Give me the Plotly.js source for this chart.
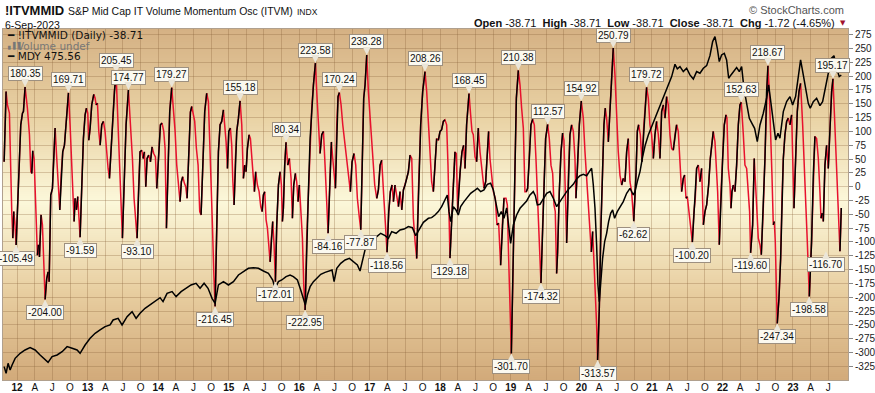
<!DOCTYPE html>
<html><head><meta charset="utf-8">
<script src="https://cdn.plot.ly/plotly-3.0.1.min.js"></script>
<style>html,body{margin:0;padding:0;background:#fff;}#chart{width:875px;height:393px;}</style>
</head><body><div id="chart"></div>
<script>
// Oscillator (!ITVMMID) – decimal year / value
const oscX = [2011.816,2011.844,2011.863,2011.891,2011.924,2011.939,2011.953,2011.967,2011.986,2012.019,2012.052,2012.076,2012.090,2012.113,2012.146,2012.175,2012.194,2012.208,2012.222,2012.241,2012.265,2012.288,2012.302,2012.317,2012.340,2012.359,2012.383,2012.397,2012.420,2012.439,2012.454,2012.477,2012.501,2012.520,2012.539,2012.562,2012.586,2012.605,2012.624,2012.647,2012.671,2012.695,2012.728,2012.751,2012.775,2012.789,2012.808,2012.822,2012.841,2012.860,2012.874,2012.893,2012.917,2012.940,2012.964,2012.983,2013.002,2013.016,2013.035,2013.058,2013.087,2013.106,2013.120,2013.139,2013.158,2013.177,2013.200,2013.224,2013.247,2013.271,2013.290,2013.309,2013.332,2013.356,2013.380,2013.403,2013.432,2013.460,2013.493,2013.517,2013.545,2013.578,2013.611,2013.635,2013.658,2013.682,2013.701,2013.720,2013.743,2013.767,2013.786,2013.805,2013.824,2013.843,2013.866,2013.890,2013.914,2013.937,2013.961,2013.980,2014.008,2014.032,2014.055,2014.079,2014.098,2014.117,2014.140,2014.164,2014.192,2014.216,2014.240,2014.263,2014.287,2014.310,2014.329,2014.348,2014.372,2014.391,2014.410,2014.433,2014.457,2014.476,2014.495,2014.518,2014.542,2014.566,2014.589,2014.608,2014.637,2014.660,2014.688,2014.712,2014.731,2014.750,2014.769,2014.788,2014.807,2014.831,2014.854,2014.878,2014.901,2014.925,2014.944,2014.963,2014.982,2015.001,2015.024,2015.043,2015.057,2015.076,2015.095,2015.114,2015.138,2015.161,2015.185,2015.208,2015.227,2015.246,2015.265,2015.289,2015.308,2015.327,2015.345,2015.364,2015.383,2015.407,2015.431,2015.454,2015.473,2015.492,2015.511,2015.530,2015.549,2015.568,2015.587,2015.605,2015.624,2015.643,2015.662,2015.681,2015.705,2015.728,2015.747,2015.761,2015.775,2015.794,2015.813,2015.837,2015.861,2015.884,2015.903,2015.922,2015.946,2015.964,2015.983,2016.002,2016.021,2016.045,2016.064,2016.083,2016.106,2016.130,2016.154,2016.177,2016.201,2016.229,2016.248,2016.272,2016.295,2016.319,2016.343,2016.366,2016.390,2016.409,2016.437,2016.456,2016.475,2016.494,2016.513,2016.532,2016.550,2016.569,2016.593,2016.617,2016.645,2016.673,2016.702,2016.725,2016.749,2016.777,2016.801,2016.824,2016.848,2016.872,2016.895,2016.914,2016.933,2016.957,2016.980,2017.004,2017.037,2017.070,2017.099,2017.122,2017.146,2017.169,2017.193,2017.217,2017.231,2017.245,2017.269,2017.292,2017.316,2017.335,2017.358,2017.382,2017.406,2017.429,2017.453,2017.477,2017.500,2017.524,2017.547,2017.571,2017.595,2017.618,2017.642,2017.665,2017.689,2017.722,2017.750,2017.783,2017.807,2017.830,2017.854,2017.877,2017.901,2017.925,2017.948,2017.972,2017.996,2018.019,2018.043,2018.066,2018.090,2018.109,2018.128,2018.137,2018.161,2018.185,2018.208,2018.227,2018.246,2018.265,2018.284,2018.307,2018.331,2018.350,2018.373,2018.407,2018.430,2018.449,2018.468,2018.492,2018.515,2018.539,2018.563,2018.581,2018.600,2018.619,2018.643,2018.662,2018.685,2018.704,2018.728,2018.752,2018.780,2018.803,2018.827,2018.841,2018.855,2018.879,2018.903,2018.931,2018.950,2018.969,2018.988,2019.007,2019.030,2019.054,2019.078,2019.106,2019.130,2019.153,2019.177,2019.200,2019.219,2019.238,2019.262,2019.285,2019.309,2019.333,2019.356,2019.380,2019.404,2019.427,2019.451,2019.470,2019.493,2019.522,2019.545,2019.569,2019.593,2019.612,2019.630,2019.649,2019.663,2019.687,2019.711,2019.734,2019.753,2019.772,2019.791,2019.815,2019.838,2019.862,2019.886,2019.909,2019.923,2019.947,2019.971,2019.999,2020.027,2020.051,2020.075,2020.098,2020.122,2020.141,2020.160,2020.179,2020.197,2020.216,2020.230,2020.254,2020.278,2020.301,2020.320,2020.339,2020.358,2020.382,2020.405,2020.429,2020.452,2020.476,2020.500,2020.523,2020.547,2020.571,2020.594,2020.618,2020.642,2020.665,2020.689,2020.712,2020.742,2020.774,2020.793,2020.812,2020.836,2020.859,2020.883,2020.906,2020.925,2020.949,2020.972,2020.996,2021.020,2021.043,2021.067,2021.091,2021.114,2021.138,2021.162,2021.185,2021.209,2021.232,2021.256,2021.280,2021.303,2021.327,2021.350,2021.374,2021.398,2021.421,2021.445,2021.464,2021.483,2021.502,2021.525,2021.549,2021.573,2021.596,2021.615,2021.634,2021.658,2021.681,2021.705,2021.729,2021.752,2021.776,2021.804,2021.828,2021.852,2021.870,2021.894,2021.913,2021.932,2021.946,2021.955,2021.979,2022.003,2022.026,2022.050,2022.064,2022.083,2022.107,2022.121,2022.135,2022.154,2022.177,2022.201,2022.225,2022.248,2022.267,2022.296,2022.319,2022.343,2022.366,2022.385,2022.399,2022.428,2022.451,2022.475,2022.508,2022.532,2022.551,2022.579,2022.603,2022.626,2022.645,2022.664,2022.683,2022.702,2022.721,2022.735,2022.749,2022.768,2022.777,2022.801,2022.825,2022.844,2022.863,2022.886,2022.910,2022.933,2022.957,2022.981,2022.999,2023.014,2023.037,2023.061,2023.085,2023.108,2023.137,2023.160,2023.184,2023.203,2023.217,2023.231,2023.264,2023.288,2023.311,2023.335,2023.359,2023.382,2023.397,2023.415,2023.430,2023.453,2023.477,2023.500,2023.524,2023.548,2023.567,2023.595,2023.619,2023.642,2023.666,2023.685];
const oscY = [45,172,148,133,-45,-93,-45,-63,-105.49,-9,112,133,136,180.35,142,94,27,24,65,51,-45,-124,-105,-127,-51,-69,-154,-204,-166,-154,-172,-15,-3,69,106,51,3,-42,21,63,75,112,169.71,112,39,-27,-63,-21,-42,-18,-45,-91.59,3,87,130,142,133,84,106,148,167,160,148,151,100,75,112,118,100,57,33,15,69,112,172,205.45,100,-9,-93,3,112,174.77,112,51,-21,-69,-93.1,-9,63,66,51,63,0,51,57,45,72,60,54,-3,51,112,115,100,69,-75,39,136,179.27,142,100,39,3,-27,9,18,6,0,-21,63,135,145,135,118,69,39,-45,-51,51,136,169,154,81,21,-69,-154,-216.45,-69,63,112,118,139,112,81,33,100,106,75,15,-33,51,100,124,155.18,112,15,39,27,69,94,87,57,21,-9,27,3,-9,-36,-45,-15,-9,-60,-75,-99,-136,-93,-63,-105,-172.01,-69,3,27,3,-63,-39,39,80.34,39,51,15,-57,3,24,9,-27,3,-45,-93,-178,-222.95,-93,-9,87,142,184,223.58,172,112,60,94,100,39,-45,-84.16,21,81,51,15,-3,112,163,170.24,148,112,81,51,27,-9,45,60,39,-21,-51,-77.87,51,160,184,238.28,172,124,51,3,-21,-6,39,48,-6,-69,-93,-118.56,-45,-9,3,-27,3,-18,-36,-9,-42,-6,3,15,27,57,51,-57,-99,-130,-9,112,172,208.26,172,112,51,9,-9,51,87,84,100,103,118,121,112,39,-69,-129.18,-57,21,63,60,-45,3,33,63,75,33,112,168.45,130,100,94,54,45,106,63,39,15,-3,9,51,100,51,21,-9,-21,-69,-66,-118,-142,-69,-21,-21,-33,-130,-238,-301.7,-160,21,160,210.38,184,142,106,-9,-9,-3,51,112,122,112,51,-33,-118,-174.32,-69,21,87,112.57,87,39,24,-33,-45,-157,-118,-9,63,97,84,-9,-102,21,94,112,100,51,-21,39,112,154.92,124,63,9,-21,-99,-118,-81,-130,-190,-250,-313.57,-220,-69,51,112,142,124,81,142,214,250.79,202,112,63,21,3,15,9,63,87,9,-9,-62.62,21,100,112,94,45,106,142,179.72,160,112,94,51,94,118,94,51,136,148,124,163,148,94,69,66,94,112,100,33,-9,15,21,-21,-18,-45,-75,-100.2,-45,-21,33,39,9,33,-69,-45,-33,3,51,81,100,81,39,-9,-69,-105,-9,51,112,130,124,33,3,-39,-9,3,-9,39,112,148,152.63,94,39,33,-21,-45,-119.6,-69,51,-9,-93,-105,-123,-39,51,172,218.67,172,112,21,-69,-63,-99,-190,-247.34,-202,-130,-21,51,94,118,124,112,130,21,-39,51,136,172,187,112,21,-39,-99,-178,-198.58,-99,21,91,87,51,-9,-57,-48,-63,39,75,33,106,172,195.17,112,21,-39,-116.7,-38.71];

// MDY price overlay – decimal year / price
const mdyX = [2011.816,2011.844,2011.872,2011.901,2011.929,2011.972,2012.043,2012.113,2012.184,2012.255,2012.326,2012.397,2012.439,2012.496,2012.567,2012.638,2012.709,2012.780,2012.850,2012.893,2012.964,2013.035,2013.106,2013.176,2013.247,2013.318,2013.361,2013.432,2013.488,2013.559,2013.630,2013.687,2013.743,2013.814,2013.885,2013.956,2014.027,2014.069,2014.126,2014.197,2014.254,2014.325,2014.395,2014.466,2014.537,2014.594,2014.651,2014.707,2014.764,2014.807,2014.854,2014.925,2014.996,2015.067,2015.138,2015.208,2015.279,2015.350,2015.421,2015.492,2015.563,2015.624,2015.657,2015.705,2015.752,2015.813,2015.870,2015.917,2015.974,2016.021,2016.059,2016.087,2016.116,2016.154,2016.201,2016.248,2016.305,2016.366,2016.428,2016.465,2016.494,2016.532,2016.588,2016.650,2016.711,2016.768,2016.824,2016.862,2016.900,2016.938,2016.985,2017.042,2017.099,2017.155,2017.217,2017.264,2017.311,2017.373,2017.429,2017.486,2017.547,2017.604,2017.651,2017.703,2017.760,2017.831,2017.877,2017.925,2017.972,2018.019,2018.066,2018.099,2018.123,2018.147,2018.185,2018.222,2018.255,2018.288,2018.336,2018.383,2018.430,2018.477,2018.525,2018.572,2018.619,2018.666,2018.713,2018.752,2018.789,2018.827,2018.865,2018.903,2018.941,2018.969,2018.997,2019.035,2019.082,2019.130,2019.177,2019.224,2019.271,2019.318,2019.347,2019.375,2019.413,2019.460,2019.508,2019.555,2019.602,2019.649,2019.696,2019.744,2019.791,2019.838,2019.885,2019.933,2019.980,2020.027,2020.075,2020.112,2020.145,2020.169,2020.193,2020.216,2020.235,2020.254,2020.278,2020.301,2020.330,2020.358,2020.386,2020.415,2020.443,2020.471,2020.509,2020.547,2020.594,2020.642,2020.689,2020.736,2020.760,2020.793,2020.831,2020.869,2020.906,2020.949,2020.996,2021.043,2021.091,2021.138,2021.185,2021.232,2021.280,2021.327,2021.360,2021.398,2021.445,2021.492,2021.539,2021.587,2021.634,2021.681,2021.729,2021.776,2021.823,2021.861,2021.894,2021.927,2021.955,2021.988,2022.026,2022.059,2022.088,2022.121,2022.163,2022.201,2022.239,2022.272,2022.305,2022.343,2022.381,2022.418,2022.456,2022.494,2022.532,2022.579,2022.626,2022.655,2022.683,2022.721,2022.754,2022.787,2022.815,2022.863,2022.910,2022.957,2022.995,2023.037,2023.075,2023.108,2023.146,2023.184,2023.217,2023.245,2023.288,2023.335,2023.382,2023.420,2023.458,2023.500,2023.543,2023.581,2023.619,2023.656,2023.685];
const mdyY = [160.6,153.4,164.2,157,162.4,169.6,175,178.6,181.1,178.6,173.2,167.8,165.2,171.4,173.2,176.8,182.2,180.4,178.6,175,184,191.2,196.6,200.2,203.8,205.6,211,212.8,205.6,214.6,220,212.8,218.2,223.6,227.2,230.8,235.1,230.8,239.8,241.6,236.2,241.6,245.2,248.8,250.6,245.2,250.6,245.2,234.4,229,248.8,252.4,248.8,252.4,259.6,263.2,266.8,267.5,266.8,263.9,261.4,254.2,245.2,252.4,254.2,257.8,259.6,257.8,254.2,243.4,232.6,227.2,238,247,252.4,256,260.3,262.4,263.9,265,252.4,266.8,272.2,275.8,277.6,274,270.4,263.9,277.6,288.4,292.7,295.6,301,304.6,302.1,299.2,306.4,304.6,308.2,309.2,311.8,310.7,302.1,309.2,316.4,320.8,321.5,324.4,328,333.4,340.6,346,328,317.2,333.4,329.8,324.4,333.4,338.8,343.1,347.8,350.3,353.2,349.6,351.4,357.5,358.6,351.4,335.2,322.6,328,320.8,332,313.6,293.8,313.6,324.4,331.6,335.9,339.5,346,349.6,345.2,335.2,335.9,342.4,347.8,349.6,342.4,333.4,338.8,345.2,349.6,353.9,357.5,363.2,366.8,368.3,366.8,371.2,374.8,356.8,331.6,292,248.8,230.8,256,277.6,295.6,304.6,317.2,326.2,329.8,320.8,328,332.3,338.8,347.8,353.2,346,349.6,360.4,371.2,387.4,400,410.8,419.8,427,437.8,446.1,454,463,473.8,487.1,482.1,484.6,479.2,482.8,475.6,471.2,479.2,477.4,482.8,485.6,496.4,511.6,517,504.4,490,497.2,499,491.8,472,475.6,479.2,483.5,479.2,484.6,461.2,443.2,428.8,423.4,418,403.6,421.6,434.2,450.4,464.8,446.8,428.8,405.4,412.6,407.2,436,446.8,452.2,443.2,452.2,475.6,491.8,475.6,457.6,445,439.6,446.8,450.4,442.4,446.8,461.2,475.6,493.6,496.4,482.8,473.8,475.56];

// Labelled turning points of the oscillator
const markedVals = [-105.49,180.35,-204,169.71,-91.59,205.45,174.77,-93.1,179.27,-216.45,155.18,-172.01,80.34,-222.95,223.58,-84.16,170.24,-77.87,238.28,-118.56,208.26,-129.18,168.45,-301.7,210.38,-174.32,112.57,154.92,-313.57,250.79,-62.62,179.72,-100.2,152.63,-119.6,218.67,-247.34,-198.58,195.17,-116.7];

const xTickVals = [2012,2012.25,2012.5,2012.75,2013,2013.25,2013.5,2013.75,2014,2014.25,2014.5,2014.75,2015,2015.25,2015.5,2015.75,2016,2016.25,2016.5,2016.75,2017,2017.25,2017.5,2017.75,2018,2018.25,2018.5,2018.75,2019,2019.25,2019.5,2019.75,2020,2020.25,2020.5,2020.75,2021,2021.25,2021.5,2021.75,2022,2022.25,2022.5,2022.75,2023,2023.25,2023.5];
const xTickText = ['<b>12</b>','A','J','O','<b>13</b>','A','J','O','<b>14</b>','A','J','O','<b>15</b>','A','J','O','<b>16</b>','A','J','O','<b>17</b>','A','J','O','<b>18</b>','A','J','O','<b>19</b>','A','J','O','<b>20</b>','A','J','O','<b>21</b>','A','J','O','<b>22</b>','A','J','O','<b>23</b>','A','J'];
const yTickVals = [-325,-300,-275,-250,-225,-200,-175,-150,-125,-100,-75,-50,-25,0,25,50,75,100,125,150,175,200,225,250,275];
const yTickText = ['-325','-300','-275','-250','-225','-200','-175','-150','-125','-100','-75','-50','-25','0','25','50','75','100','125','150','175','200','225','250','275'];

// rising segments drawn black
const upX = [], upY = [];
for (let i = 0; i < oscY.length - 1; i++) {
  if (oscY[i + 1] > oscY[i]) {
    if (upX.length && upX[upX.length - 1] === oscX[i]) { upX.push(oscX[i + 1]); upY.push(oscY[i + 1]); }
    else { if (upX.length) { upX.push(null); upY.push(null); } upX.push(oscX[i], oscX[i + 1]); upY.push(oscY[i], oscY[i + 1]); }
  }
}

// background gradient
const cv = document.createElement('canvas'); cv.width = 4; cv.height = 351;
const g = cv.getContext('2d'); const gr = g.createLinearGradient(0, 0, 0, 351);
gr.addColorStop(0, '#d5b184'); gr.addColorStop(0.25, '#e9d2a4'); gr.addColorStop(0.49, '#fcf8da');
gr.addColorStop(0.75, '#e8cea0'); gr.addColorStop(1, '#d2aa7a');
g.fillStyle = gr; g.fillRect(0, 0, 4, 351);

const F = 'Liberation Sans, Arial, sans-serif';
const px = X => (X - 3) / 845, py = Y => (380 - Y) / 351;
const ann = [];
markedVals.forEach(v => {
  const i = oscY.indexOf(v);
  if (i < 0) return;
  const up = v > 0;
  ann.push({x: oscX[i], y: v, xref: 'x', yref: 'y', text: v.toFixed(2), showarrow: true,
    ax: 0, ay: up ? -13 : 13, arrowhead: 2, arrowsize: 1.6, arrowwidth: 1, arrowcolor: '#ebe6d9', standoff: 0,
    bgcolor: '#fbf9f0', bordercolor: '#9d9080', borderwidth: 1, borderpad: 1,
    xshift: v === -116.7 ? -14 : 0,
    font: {family: F, size: 10, color: '#111'}});
});
const last = oscY[oscY.length - 1], lastM = mdyY[mdyY.length - 1];
ann.push(
  {xref:'paper', yref:'paper', x: px(3), y: py(11), xanchor:'left', yanchor:'middle', showarrow:false, text:'<b>!ITVMMID</b>', font:{family:F, size:13, color:'#111'}},
  {xref:'paper', yref:'paper', x: px(66), y: py(11), xanchor:'left', yanchor:'middle', showarrow:false, text:'S&P Mid Cap IT Volume Momentum Osc (ITVM)', font:{family:F, size:10.5, color:'#111'}},
  {xref:'paper', yref:'paper', x: px(295), y: py(11.5), xanchor:'left', yanchor:'middle', showarrow:false, text:'INDX', font:{family:F, size:8.5, color:'#111'}},
  {xref:'paper', yref:'paper', x: px(3), y: py(24.5), xanchor:'left', yanchor:'middle', showarrow:false, text:'6-Sep-2023', font:{family:F, size:10.5, color:'#111'}},
  {xref:'paper', yref:'paper', x: px(846), y: py(10), xanchor:'right', yanchor:'middle', showarrow:false, text:'© StockCharts.com', font:{family:F, size:11, color:'#555'}},
  {xref:'paper', yref:'paper', x: px(837), y: py(23), xanchor:'right', yanchor:'middle', showarrow:false,
   text:'<b>Open</b> -38.71  <b>High</b> -38.71  <b>Low</b> -38.71  <b>Close</b> -38.71  <b>Chg</b> -1.72 (-4.65%)', font:{family:F, size:11, color:'#111'}},
  {xref:'paper', yref:'paper', x: px(843), y: py(23), xanchor:'center', yanchor:'middle', showarrow:false, text:'▼', font:{family:'DejaVu Sans', size:7, color:'#a0102e'}},
  {xref:'paper', yref:'paper', x: px(5), y: py(35), xanchor:'left', yanchor:'middle', showarrow:false, text:'━ !ITVMMID (Daily) ' + last.toFixed(2), font:{family:'DejaVu Sans', size:10.5, color:'#111'}},
  {xref:'paper', yref:'paper', x: px(5), y: py(46), xanchor:'left', yanchor:'middle', showarrow:false, text:'▖▌▌', font:{family:'DejaVu Sans', size:6.5, color:'#777'}},
  {xref:'paper', yref:'paper', x: px(15), y: py(45.5), xanchor:'left', yanchor:'middle', showarrow:false, text:'Volume undef', font:{family:'DejaVu Sans', size:10.5, color:'#777'}},
  {xref:'paper', yref:'paper', x: px(5), y: py(56), xanchor:'left', yanchor:'middle', showarrow:false, text:'━ MDY ' + lastM.toFixed(2), font:{family:'DejaVu Sans', size:10.5, color:'#111'}}
);

const grid = 'rgba(135,95,55,0.30)';
const traces = [
  {x: oscX, y: oscY, type: 'scatter', mode: 'lines', line: {color: '#e8112d', width: 1.5}, hoverinfo: 'skip'},
  {x: upX, y: upY, type: 'scatter', mode: 'lines', line: {color: '#000', width: 1.5}, connectgaps: false, hoverinfo: 'skip'},
  {x: mdyX, y: mdyY, type: 'scatter', mode: 'lines', yaxis: 'y2', line: {color: '#000', width: 1.5}, hoverinfo: 'skip'}
];
const layout = {
  width: 875, height: 393, margin: {l: 3, r: 27, t: 29, b: 13},
  paper_bgcolor: '#fff', plot_bgcolor: 'rgba(0,0,0,0)', showlegend: false,
  font: {family: F, size: 10, color: '#111'},
  xaxis: {range: [2011.80, 2023.78], tickvals: xTickVals, ticktext: xTickText, tickangle: 0, showgrid: true, gridcolor: grid, gridwidth: 1,
    showline: true, mirror: true, linecolor: '#b0a08e', ticks: '', zeroline: false, ticklabelstandoff: -2, tickfont: {family: F, size: 10, color: '#111'}},
  yaxis: {side: 'right', range: [-349.6, 285.2], tickvals: yTickVals, ticktext: yTickText, showgrid: true, gridcolor: grid, gridwidth: 1,
    showline: true, mirror: true, linecolor: '#b0a08e', ticks: 'outside', ticklen: 4, tickcolor: '#888', zeroline: false,
    tickfont: {family: F, size: 10, color: '#222'}},
  yaxis2: {overlaying: 'y', range: [146.2, 525.2], visible: false},
  images: [{source: cv.toDataURL(), xref: 'paper', yref: 'paper', x: 0, y: 1, sizex: 1, sizey: 1, sizing: 'stretch', xanchor: 'left', yanchor: 'top', layer: 'below'}],
  annotations: ann
};
Plotly.newPlot('chart', traces, layout, {staticPlot: true, displayModeBar: false});
</script></body></html>
